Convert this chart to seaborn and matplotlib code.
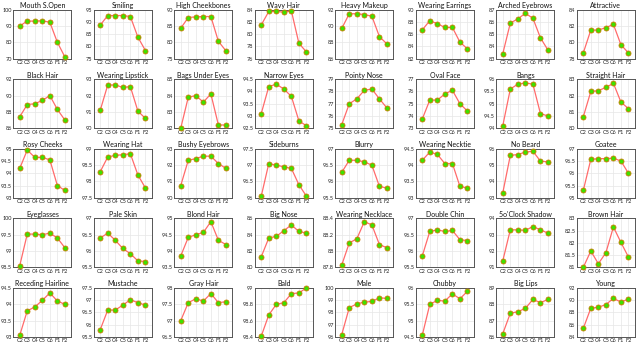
import numpy as np
import pandas as pd
import matplotlib
matplotlib.use("Agg")
import matplotlib.pyplot as plt
import seaborn as sns
from matplotlib.ticker import FuncFormatter

stages = ["C2", "C3", "C4", "C5", "C6", "F1", "F2"]

titles = ["Mouth S.Open", "Smiling", "High Cheekbones", "Wavy Hair", "Heavy Makeup",
          "Wearing Earrings", "Arched Eyebrows", "Attractive",
          "Black Hair", "Wearing Lipstick", "Bags Under Eyes", "Narrow Eyes", "Pointy Nose",
          "Oval Face", "Bangs", "Straight Hair",
          "Rosy Cheeks", "Wearing Hat", "Bushy Eyebrows", "Sideburns", "Blurry",
          "Wearing Necktie", "No Beard", "Goatee",
          "Eyeglasses", "Pale Skin", "Blond Hair", "Big Nose", "Wearing Necklace",
          "Double Chin", "5o'Clock Shadow", "Brown Hair",
          "Receding Hairline", "Mustache", "Gray Hair", "Bald", "Male", "Chubby",
          "Big Lips", "Young"]

mouth_open = [90.0, 93.0, 93.0, 93.2, 92.3, 80.0, 71.0]
smiling = [88.7, 92.6, 92.6, 92.6, 92.2, 83.8, 78.3]
high_cheekbones = [84.3, 87.6, 87.8, 87.9, 87.9, 80.3, 77.4]
wavy_hair = [81.5, 83.7, 83.7, 83.6, 83.8, 78.5, 77.1]
heavy_makeup = [89.7, 91.5, 91.5, 91.4, 91.2, 88.7, 87.8]
wearing_earrings = [86.7, 88.2, 87.7, 87.1, 87.1, 84.7, 83.6]
arched_eyebrows = [83.4, 85.9, 86.25, 86.7, 86.3, 84.7, 83.7]
attractive = [78.7, 81.5, 81.5, 81.8, 82.2, 79.7, 78.7]
black_hair = [87.4, 88.9, 89.0, 89.4, 90.0, 88.3, 87.0]
wearing_lipstick = [91.1, 92.65, 92.65, 92.5, 92.55, 91.05, 90.6]
bags_under_eyes = [82.0, 83.9, 84.0, 83.6, 84.1, 82.2, 82.2]
narrow_eyes = [93.1, 94.2, 94.3, 94.1, 93.8, 92.8, 92.6]
pointy_nose = [75.3, 77.0, 77.4, 78.1, 78.2, 77.4, 76.65]
oval_face = [73.75, 75.3, 75.3, 75.8, 76.1, 75.0, 74.4]
bangs = [94.1, 95.6, 95.8, 95.85, 95.8, 94.6, 94.5]
straight_hair = [80.7, 82.25, 82.3, 82.5, 82.75, 81.6, 81.2]
rosy_cheeks = [94.2, 94.95, 94.65, 94.65, 94.55, 93.5, 93.3]
wearing_hat = [98.3, 98.75, 98.8, 98.82, 98.85, 98.2, 97.8]
bushy_eyebrows = [90.75, 92.3, 92.4, 92.55, 92.55, 92.1, 91.8]
sideburns = [96.05, 97.05, 97.0, 96.95, 96.9, 96.4, 96.05]
blurry = [96.28, 96.65, 96.65, 96.6, 96.5, 95.85, 95.8]
wearing_necktie = [94.15, 94.4, 94.33, 94.05, 94.05, 93.35, 93.3]
no_beard = [93.3, 95.6, 95.65, 95.8, 95.85, 95.25, 95.2]
goatee = [95.3, 96.57, 96.6, 96.6, 96.62, 96.5, 96.0]
eyeglasses = [98.55, 99.52, 99.52, 99.5, 99.55, 99.4, 99.1]
pale_skin = [96.4, 96.55, 96.33, 96.08, 95.92, 95.7, 95.68]
blond_hair = [93.85, 94.42, 94.5, 94.57, 94.9, 94.33, 94.2]
big_nose = [81.3, 83.6, 83.8, 84.5, 85.2, 84.4, 84.2]
wearing_necklace = [87.83, 88.1, 88.15, 88.36, 88.32, 88.08, 88.04]
double_chin = [95.85, 96.6, 96.65, 96.6, 96.63, 96.35, 96.32]
five_oclock_shadow = [91.4, 93.3, 93.3, 93.27, 93.5, 93.3, 93.1]
brown_hair = [81.0, 81.67, 81.15, 81.6, 82.65, 82.02, 81.42]
receding_hairline = [93.05, 93.8, 93.92, 94.12, 94.35, 94.1, 94.0]
mustache = [95.8, 96.6, 96.6, 96.8, 97.02, 96.9, 96.8]
gray_hair = [97.0, 97.55, 97.67, 97.6, 97.83, 97.55, 97.58]
bald = [98.41, 98.67, 98.8, 98.82, 98.93, 98.94, 99.0]
male = [96.2, 98.4, 98.7, 98.85, 98.9, 99.2, 99.15]
chubby = [94.55, 95.5, 95.62, 95.6, 95.82, 95.67, 95.9]
big_lips = [86.2, 87.45, 87.55, 87.75, 88.3, 88.1, 88.3]
young = [85.4, 88.7, 88.85, 89.3, 90.3, 89.7, 90.2]

series = [mouth_open, smiling, high_cheekbones, wavy_hair, heavy_makeup,
          wearing_earrings, arched_eyebrows, attractive,
          black_hair, wearing_lipstick, bags_under_eyes, narrow_eyes, pointy_nose,
          oval_face, bangs, straight_hair,
          rosy_cheeks, wearing_hat, bushy_eyebrows, sideburns, blurry,
          wearing_necktie, no_beard, goatee,
          eyeglasses, pale_skin, blond_hair, big_nose, wearing_necklace,
          double_chin, five_oclock_shadow, brown_hair,
          receding_hairline, mustache, gray_hair, bald, male, chubby, big_lips, young]

y_ranges = [(70, 100, 10), (75, 95, 5), (75, 90, 5), (76, 84, 2), (86, 92, 2),
            (82, 90, 2), (83, 87, 1), (78, 84, 2),
            (86, 92, 2), (90, 93, 1), (82, 85, 1), (92.5, 94.5, 0.5), (75, 79, 1),
            (73, 77, 1), (94, 96, 0.5), (80, 83, 1),
            (93, 95, 0.5), (97.5, 99, 0.5), (90, 93, 1), (96, 97.5, 0.5), (95.5, 97, 0.5),
            (93, 94.5, 0.5), (93, 96, 1), (95, 97, 0.5),
            (98.5, 100, 0.5), (95.5, 97, 0.5), (93.5, 95, 0.5), (80, 86, 2), (87.8, 88.4, 0.2),
            (95.5, 97, 0.5), (91, 94, 1), (81, 83, 0.5),
            (93, 94.5, 0.5), (95.5, 97.5, 0.5), (96.5, 98, 0.5), (98.4, 99, 0.2), (96, 100, 1),
            (94.5, 96, 0.5), (86, 89, 1), (84, 92, 2)]

sns.set_style("whitegrid", {"grid.color": "#e6e6e6", "axes.edgecolor": "#555555"})
plt.rcParams['font.family'] = ['Lato', 'DejaVu Sans']

fig, axes = plt.subplots(5, 8, figsize=(6.4, 3.45), dpi=100)
fig.subplots_adjust(left=0.0208, right=0.992, bottom=0.0232, top=0.972,
                    wspace=0.388, hspace=0.42)

fmt = FuncFormatter(lambda v, p: ("%g" % round(v, 3)))

for i, ax in enumerate(axes.flat):
    df = pd.DataFrame({"x": np.arange(len(stages)), "y": series[i]})
    sns.lineplot(data=df, x="x", y="y", ax=ax, color="#ff6b6b", linewidth=0.9,
                 marker="o", markersize=3.6, markerfacecolor="#3ee000",
                 markeredgecolor="#cc7a00", markeredgewidth=0.6, clip_on=False,
                 zorder=5)
    lo, hi, step = y_ranges[i]
    ax.set_ylim(lo, hi)
    ax.set_yticks(np.arange(lo, hi + step / 2, step))
    ax.yaxis.set_major_formatter(fmt)
    ax.set_xlim(-0.85, 6.85)
    ax.set_xticks(np.arange(len(stages)))
    ax.set_xticklabels(stages)
    ax.set_xlabel("")
    ax.set_ylabel("")
    ax.set_title(titles[i], fontsize=5.0, pad=1.2, color="#111111")
    ax.tick_params(axis="both", labelsize=4.0, pad=1, length=0, colors="#222222")
    ax.grid(True, linewidth=0.5)
    for s in ax.spines.values():
        s.set_linewidth(0.7)
        s.set_color("#555555")

fig.savefig("out.png", dpi=100)
